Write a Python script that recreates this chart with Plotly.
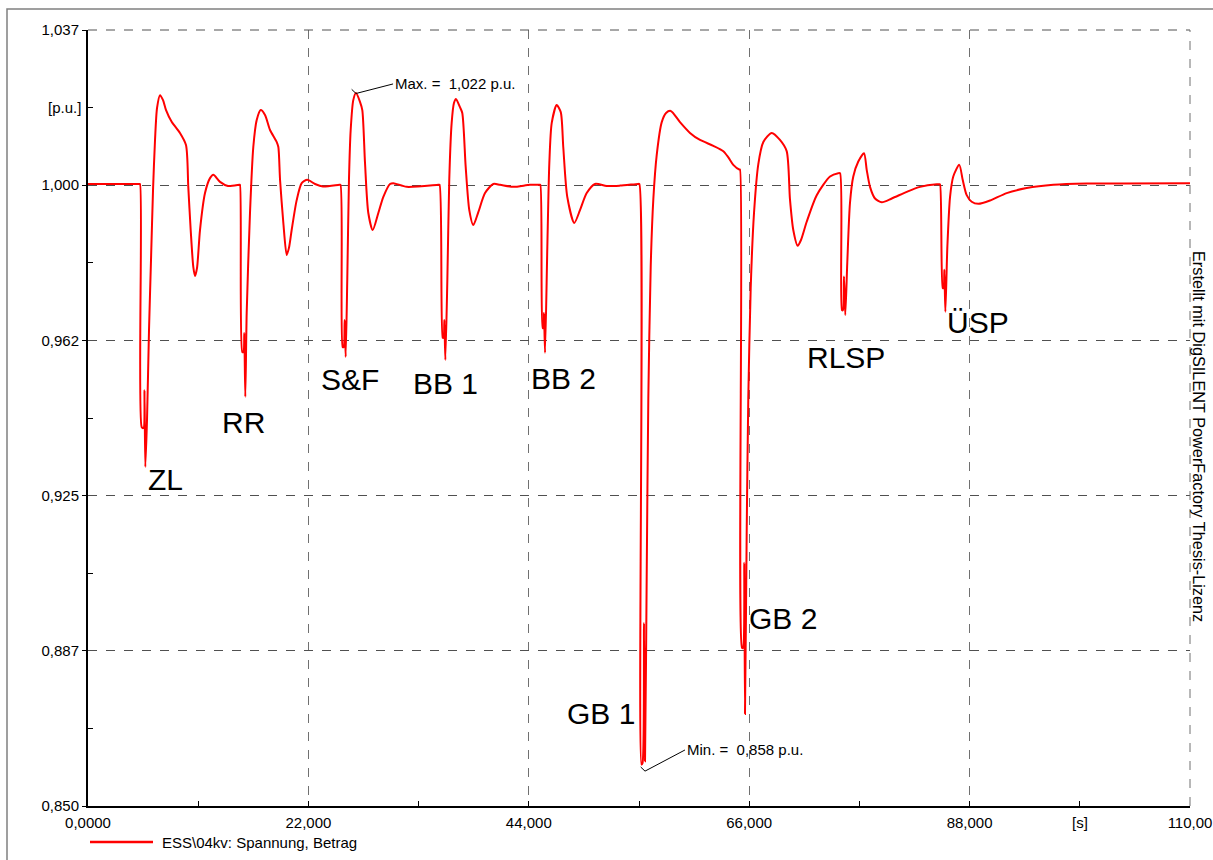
import plotly.graph_objects as go

# ---------------- data (time in s, voltage in p.u.) ----------------
t_zl = [0, 5100, 5190, 5360, 5540, 5640, 5720, 5890, 6090, 6290, 6490, 6690, 6890, 7190, 7490, 7790,
        8350, 9180, 9780, 10010, 10250, 10510, 10680, 10880, 11180, 11680, 12180, 12510, 13180, 13970, 15120]
v_zl = [0.9999, 0.9999, 0.9999, 0.9413, 0.9411, 0.9502, 0.9317, 0.9430, 0.9647, 0.9816, 0.9984, 1.0105, 1.0182,
        1.0213, 1.0201, 1.0177, 1.0149, 1.0122, 1.0093, 0.9992, 0.9888, 0.9799, 0.9777, 0.9796, 0.9888,
        0.9977, 1.0013, 1.0021, 1.0004, 0.9994, 0.9997]

t_rr = [15170, 15400, 15520, 15600, 15700, 15840, 16170, 16500, 16840, 17240, 17670, 18170, 18840,
        19000, 19170, 19500, 19830, 20060, 20330, 20830, 21330, 21890, 22660, 23460, 25080]
v_rr = [0.9997, 0.9594, 0.9594, 0.9640, 0.9486, 0.9688, 0.9929, 1.0088, 1.0153, 1.0177, 1.0165, 1.0129,
        1.0100, 1.0088, 1.0009, 0.9905, 0.9828, 0.9845, 0.9888, 0.9960, 1.0001, 1.0009, 0.9999, 0.9993, 0.9997]

t_sf = [25200, 25420, 25520, 25620, 25720, 25880, 26050, 26220, 26480, 26750, 27150, 27380, 27650,
        27980, 28420, 28980, 29480, 30150, 30480, 31810, 34970]
v_sf = [0.9997, 0.9606, 0.9606, 0.9671, 0.9582, 0.9768, 1.0009, 1.0129, 1.0201, 1.0218, 1.0197, 1.0177,
        1.0050, 0.9929, 0.9888, 0.9929, 0.9968, 0.9999, 1.0001, 0.9992, 0.9997]

t_bb1 = [35090, 35410, 35490, 35570, 35670, 35870, 36060, 36300, 36530, 36730, 37130, 37360, 37700,
         38060, 38460, 38960, 39630, 40460, 41130, 42450, 44120, 45070]
v_bb1 = [0.9997, 0.9628, 0.9628, 0.9671, 0.9575, 0.9768, 1.0009, 1.0146, 1.0194, 1.0204, 1.0184, 1.0170,
         1.0040, 0.9936, 0.9900, 0.9931, 0.9977, 0.9999, 0.9997, 0.9992, 0.9997, 0.9997]

t_bb2 = [45150, 45390, 45470, 45520, 45620, 45850, 46050, 46290, 46790, 47190, 47440, 47840, 48540,
         49110, 49780, 50610, 51780, 53100, 54900, 55030]
v_bb2 = [0.9997, 0.9652, 0.9652, 0.9688, 0.9592, 0.9847, 1.0050, 1.0146, 1.0189, 1.0172, 1.0088, 0.9968,
         0.9905, 0.9936, 0.9977, 0.9999, 0.9994, 0.9995, 0.9999, 0.9999]

t_gb1 = [55250, 55350, 55500, 55600, 55770, 55930, 56170, 56430, 56770, 57270, 57700, 58170, 59090,
         60090, 61090, 62420, 63420, 63920, 64410, 65010]
v_gb1 = [0.8600, 0.8603, 0.8941, 0.8608, 0.9057, 0.9483, 0.9801, 0.9962, 1.0069, 1.0148, 1.0170, 1.0175,
         1.0148, 1.0122, 1.0105, 1.0091, 1.0078, 1.0063, 1.0045, 1.0034]

t_gb2 = [65080, 65280, 65380, 65510, 65580, 65750, 65910, 66150, 66480, 66910, 67410, 68250, 69070,
         69740, 70070, 70400, 70840, 71170, 71740, 72740, 74070, 74890, 75070]
v_gb2 = [1.0034, 0.8881, 0.8881, 0.9086, 0.8722, 0.9163, 0.9483, 0.9748, 0.9929, 1.0047, 1.0100, 1.0122,
         1.0105, 1.0078, 0.9962, 0.9888, 0.9850, 0.9864, 0.9908, 0.9972, 1.0017, 1.0025, 1.0025]

t_rlsp = [75260, 75360, 75460, 75590, 75790, 76060, 76390, 76890, 77460, 77730, 78060, 78560, 79230,
          80230, 81720, 83050, 84720, 84980, 85050]
v_rlsp = [0.9695, 0.9695, 0.9776, 0.9683, 0.9809, 0.9953, 1.0017, 1.0053, 1.0073, 1.0033, 0.9992, 0.9964,
          0.9955, 0.9964, 0.9980, 0.9992, 0.9998, 0.9998, 0.9998]

t_usp = [85320, 85400, 85480, 85580, 85780, 86050, 86370, 86970, 87310, 87710, 88210, 88870, 90040,
         91700, 93700, 96360, 99690, 110000]
v_usp = [0.9748, 0.9748, 0.9792, 0.9691, 0.9848, 0.9968, 1.0017, 1.0045, 1.0009, 0.9972, 0.9956, 0.9951,
         0.9959, 0.9977, 0.9989, 0.9997, 1.0000, 1.0001]

event_names = ["ZL", "RR", "S&F", "BB 1", "BB 2", "GB 1", "GB 2", "RLSP", "ÜSP"]

x_tickvals = [0, 22000, 44000, 66000, 88000, 110000]
x_ticktext = ["0,0000", "22,000", "44,000", "66,000", "88,000", "110,00"]
y_tickvals = [0.85, 0.8874, 0.9248, 0.9622, 0.9996, 1.037]
y_ticktext = ["0,850", "0,887", "0,925", "0,962", "1,000", "1,037"]

series_name = "ESS\\04kv: Spannung, Betrag"
max_text = "Max. =  1,022 p.u."
min_text = "Min. =  0,858 p.u."
watermark = "Erstellt mit DigSILENT PowerFactory Thesis-Lizenz"

time_s = t_zl + t_rr + t_sf + t_bb1 + t_bb2 + t_gb1 + t_gb2 + t_rlsp + t_usp
voltage_pu = v_zl + v_rr + v_sf + v_bb1 + v_bb2 + v_gb1 + v_gb2 + v_rlsp + v_usp

# ---------------- figure ----------------
FONT = "Liberation Sans, Arial, sans-serif"
SMALL = 15
fig = go.Figure()
fig.add_trace(go.Scatter(x=time_s, y=voltage_pu, mode="lines", name=series_name,
                         line=dict(color="#ff0000", width=2, shape="spline", smoothing=0.7),
                         showlegend=False))

W, H = 1213, 860
L, R, T, B = 88, 23, 30, 54
pw, ph = W - L - R, H - T - B


def px(xp):
    return (xp - L) / pw


def py(yp):
    return (H - B - yp) / ph


fig.update_layout(
    width=W, height=H,
    margin=dict(l=L, r=R, t=T, b=B, pad=0, autoexpand=False),
    paper_bgcolor="white", plot_bgcolor="white",
    font=dict(family=FONT, size=SMALL, color="black"),
    showlegend=False,
)

fig.update_xaxes(
    range=[0, 110000], tickmode="array", tickvals=x_tickvals, ticktext=x_ticktext,
    showline=True, linecolor="black", linewidth=2, mirror=False, automargin=False,
    ticks="inside", ticklen=5, tickcolor="black", tickwidth=1, ticklabelstandoff=2,
    showgrid=True, gridcolor="#707070", griddash="dash", gridwidth=1,
    zeroline=False, tickfont=dict(size=SMALL, color="black"),
    minor=dict(tickmode="array", tickvals=[11000, 33000, 55000, 77000, 99000],
               ticks="inside", ticklen=5, tickcolor="black", showgrid=False),
)
fig.update_yaxes(
    range=[0.85, 1.037], tickmode="array", tickvals=y_tickvals, ticktext=y_ticktext,
    showline=True, linecolor="black", linewidth=2, mirror=False, automargin=False,
    ticks="outside", ticklen=4, tickcolor="black", tickwidth=1,
    showgrid=True, gridcolor="#505050", griddash="dash", gridwidth=1,
    zeroline=False, tickfont=dict(size=SMALL, color="black"),
    minor=dict(tickmode="array", tickvals=[0.8687, 0.9061, 0.9435, 0.9809, 1.0183],
               ticks="inside", ticklen=5, tickcolor="black", showgrid=False),
)

# top and right border grid lines
fig.add_shape(type="line", xref="paper", yref="paper", x0=0, x1=1, y0=1, y1=1,
              line=dict(color="#505050", width=1, dash="dash"))
fig.add_shape(type="line", xref="paper", yref="paper", x0=1, x1=1, y0=0, y1=1,
              line=dict(color="#707070", width=1, dash="dash"))

# event labels
label_pos = [(7690, 0.9288), (15570, 0.9425), (26150, 0.9527), (35640, 0.9519), (47420, 0.9529),
             (51210, 0.8724), (69380, 0.8953), (75660, 0.9582), (88840, 0.9664)]
for name, (lx, ly) in zip(event_names, label_pos):
    fig.add_annotation(x=lx, y=ly, text=name, showarrow=False, xanchor="center", yanchor="middle",
                       font=dict(family=FONT, size=30, color="black"))

# max / min markers
fig.add_shape(type="line", x0=26320, y0=1.0227, x1=26750, y1=1.0217, line=dict(color="black", width=1))
fig.add_shape(type="line", x0=26750, y0=1.0217, x1=30450, y1=1.0240, line=dict(color="black", width=1))
fig.add_annotation(x=30450, y=1.0240, text=max_text, showarrow=False, xanchor="left", yanchor="middle",
                   font=dict(family=FONT, size=SMALL, color="black"))
fig.add_shape(type="line", x0=55170, y0=0.8594, x1=55600, y1=0.8584, line=dict(color="black", width=1))
fig.add_shape(type="line", x0=55600, y0=0.8584, x1=59590, y1=0.8635, line=dict(color="black", width=1))
fig.add_annotation(x=59590, y=0.8635, text=min_text, showarrow=False, xanchor="left", yanchor="middle",
                   font=dict(family=FONT, size=SMALL, color="black"))

# unit labels
fig.add_annotation(xref="paper", yref="y", x=px(83), y=1.0183, text="[p.u.]", showarrow=False,
                   xanchor="right", yanchor="middle", font=dict(family=FONT, size=SMALL, color="black"))
fig.add_annotation(xref="x", yref="paper", x=99000, y=py(823), text="[s]", showarrow=False,
                   xanchor="center", yanchor="middle", font=dict(family=FONT, size=SMALL, color="black"))

# vertical watermark
fig.add_annotation(xref="paper", yref="paper", x=px(1199), y=py(436), text=watermark, showarrow=False,
                   textangle=90, xanchor="center", yanchor="middle",
                   font=dict(family=FONT, size=16.3, color="black"))

# legend (drawn)
fig.add_shape(type="line", xref="paper", yref="paper", x0=px(90), x1=px(153), y0=py(842), y1=py(842),
              line=dict(color="#ff0000", width=2.5))
fig.add_annotation(xref="paper", yref="paper", x=px(160), y=py(842), text=series_name, showarrow=False,
                   xanchor="left", yanchor="middle", font=dict(family=FONT, size=SMALL, color="black"))

# outer frame
fig.add_shape(type="rect", xref="paper", yref="paper", x0=px(7), y0=py(866), x1=px(1220), y1=py(9),
              line=dict(color="#808080", width=1.5), fillcolor="rgba(0,0,0,0)", layer="below")

fig.write_html("out.html")
